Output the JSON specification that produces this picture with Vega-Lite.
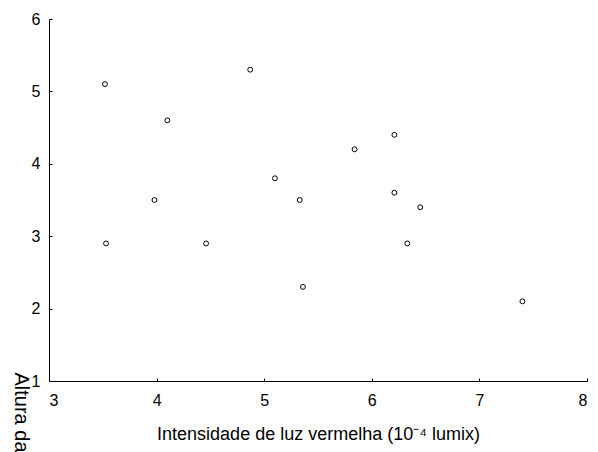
{
  "$schema": "https://vega.github.io/schema/vega-lite/v6.json",
  "width": 538,
  "height": 362,
  "autosize": {"type": "none"},
  "padding": {"left": 49, "top": 19, "right": 11, "bottom": 71},
  "background": "white",
  "config": {
    "view": {"stroke": null},
    "font": "Liberation Sans"
  },
  "data": {
    "values": [
      {"luz": 3.52, "altura": 5.1},
      {"luz": 3.53, "altura": 2.9},
      {"luz": 3.98, "altura": 3.5},
      {"luz": 4.10, "altura": 4.6},
      {"luz": 4.46, "altura": 2.9},
      {"luz": 4.87, "altura": 5.3},
      {"luz": 5.10, "altura": 3.8},
      {"luz": 5.33, "altura": 3.5},
      {"luz": 5.36, "altura": 2.3},
      {"luz": 5.84, "altura": 4.2},
      {"luz": 6.21, "altura": 4.4},
      {"luz": 6.21, "altura": 3.6},
      {"luz": 6.45, "altura": 3.4},
      {"luz": 6.33, "altura": 2.9},
      {"luz": 7.40, "altura": 2.1}
    ]
  },
  "mark": {"type": "point", "shape": "circle", "filled": false, "stroke": "black", "strokeWidth": 1, "size": 24, "opacity": 1},
  "encoding": {
    "x": {
      "field": "luz",
      "type": "quantitative",
      "scale": {"domain": [3, 8], "nice": false, "zero": false},
      "axis": {
        "title": "Intensidade de luz vermelha (10⁻⁴ lumix)",
        "values": [3, 4, 5, 6, 7, 8],
        "grid": false,
        "domainColor": "black",
        "domainWidth": 1,
        "tickColor": "black",
        "tickSize": -3,
        "labelPadding": 14,
        "labelFontSize": 16,
        "labelColor": "black",
        "labelFont": "Liberation Sans",
        "titleFont": "Liberation Sans",
        "titleFontSize": 18,
        "titleFontWeight": "normal",
        "titleColor": "black",
        "titleBaseline": "alphabetic",
        "titleY": 58
      }
    },
    "y": {
      "field": "altura",
      "type": "quantitative",
      "scale": {"domain": [1, 6], "nice": false, "zero": false},
      "axis": {
        "title": "Altura das plantas (cm)",
        "values": [1, 2, 3, 4, 5, 6],
        "grid": false,
        "domainColor": "black",
        "domainWidth": 1,
        "tickColor": "black",
        "tickSize": -3,
        "labelPadding": 12,
        "labelFontSize": 16,
        "labelColor": "black",
        "labelFont": "Liberation Sans",
        "titleFont": "Liberation Sans",
        "titleFontSize": 20,
        "titleFontWeight": "normal",
        "titleColor": "black",
        "titleAngle": 90,
        "titleAlign": "left",
        "titleBaseline": "middle",
        "titleX": -29,
        "titleY": 353
      }
    }
  }
}
